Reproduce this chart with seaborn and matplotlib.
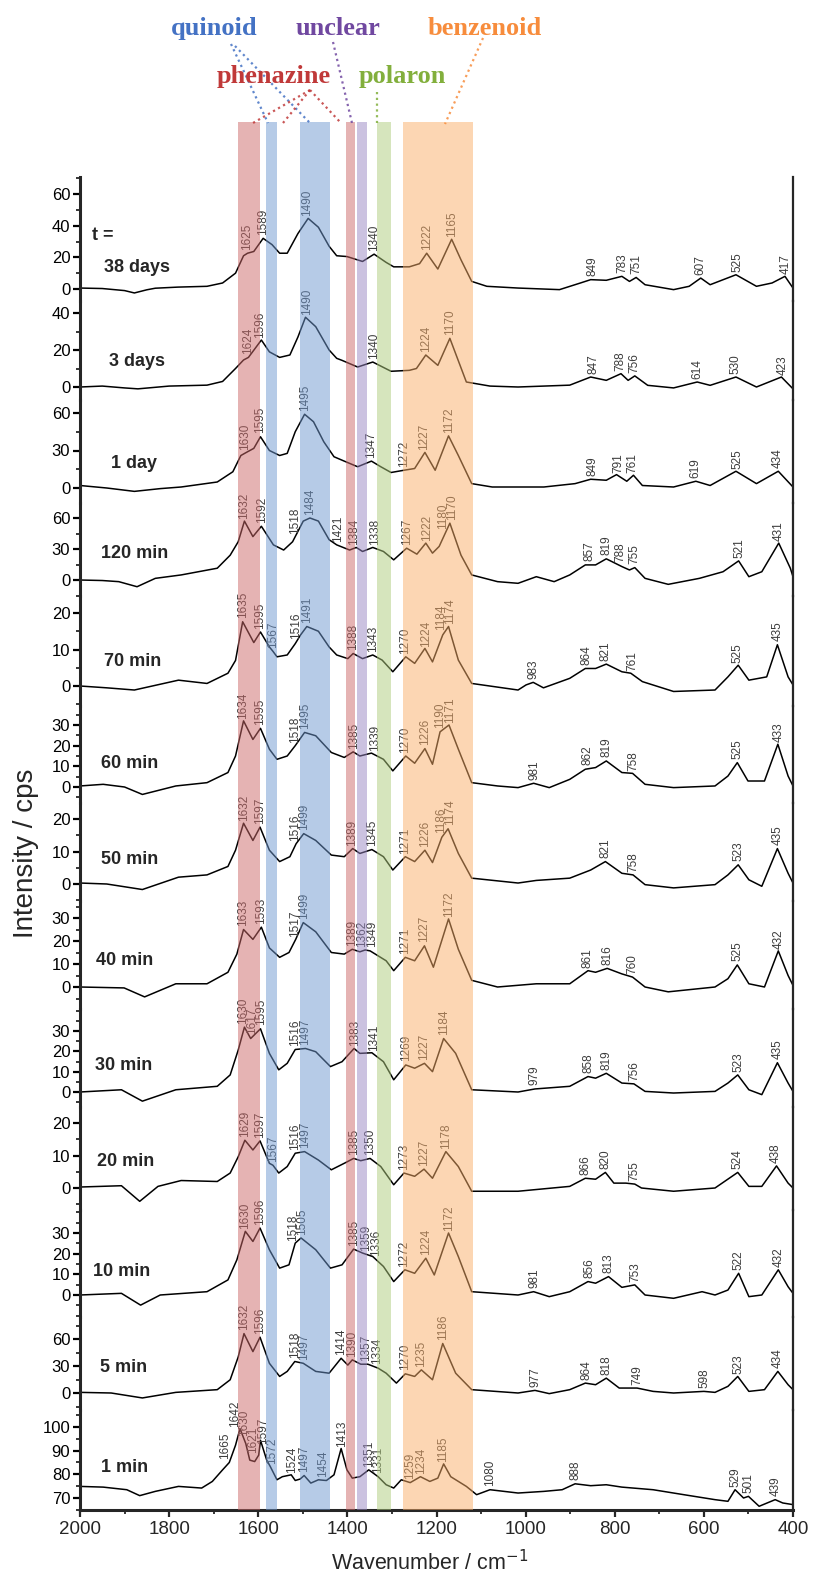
import numpy as np
import pandas as pd
import matplotlib
matplotlib.use("Agg")
import matplotlib.pyplot as plt
from matplotlib.ticker import AutoMinorLocator, MultipleLocator
import seaborn as sns

# ---------------- data ----------------
panel_names = ["38 days", "3 days", "1 day", "120 min", "70 min", "60 min", "50 min",
               "40 min", "30 min", "20 min", "10 min", "5 min", "1 min"]

# (wavenumber, intensity) pairs per spectrum
spec_38d = [(2000, 0.6), (1950, 0.3), (1900, -1), (1878, -2.5), (1850, -0.5), (1831, 0.5), (1780, 1.2),
            (1715, 1.7), (1680, 3.8), (1651, 10), (1633, 21), (1624, 22.6), (1610, 23.7), (1589, 32),
            (1569, 28), (1552, 22.6), (1535, 22.6), (1511, 35), (1488, 44.6), (1465, 39), (1441, 27),
            (1424, 21), (1401, 20.5), (1366, 17.4), (1340, 22), (1313, 16.8), (1296, 14), (1261, 14),
            (1238, 16), (1222, 22.6), (1197, 12.6), (1166, 31.4), (1145, 18.4), (1121, 4.8), (1087, 1.7),
            (1017, 0.6), (924, -0.4), (877, 3.8), (854, 5.9), (819, 5.5), (784, 8), (767, 4.8), (752, 7.3),
            (732, 2.7), (668, -0.4), (633, 1.7), (607, 6.9), (586, 2.7), (528, 9), (482, 1.7), (447, 3.8),
            (418, 8), (400, 0.6)]
spec_3d = [(2000, 0), (1950, 0.5), (1900, -0.5), (1870, -1), (1800, 0.5), (1715, 1), (1680, 3), (1651, 10),
           (1633, 14.6), (1622, 16), (1593, 25.4), (1575, 19), (1552, 16), (1529, 17.3), (1511, 27),
           (1494, 37.7), (1471, 32.6), (1441, 20), (1424, 15.5), (1412, 14.4), (1377, 10.8), (1343, 13.5),
           (1302, 8.5), (1261, 9), (1245, 10), (1224, 17.3), (1197, 11.7), (1170, 26.3), (1133, 2.7),
           (1080, 0.5), (1017, 0), (901, 1), (854, 5.4), (819, 3.6), (786, 7.2), (770, 3.6), (755, 6),
           (726, 0.9), (668, -0.5), (615, 2.7), (586, 0.9), (528, 5.4), (482, 0), (426, 5.4), (400, -1)]
spec_1d = [(2000, 2), (1940, 0), (1878, -2.7), (1820, -0.5), (1773, 0.8), (1692, 4.8), (1657, 13), (1639, 26),
           (1624, 29), (1610, 31.7), (1595, 41), (1575, 30), (1552, 26), (1535, 27.7), (1517, 45), (1496, 59),
           (1476, 53), (1453, 37), (1430, 25), (1407, 21.5), (1377, 17), (1346, 21.5), (1325, 17),
           (1302, 12.4), (1273, 14.2), (1249, 15.6), (1226, 28.5), (1203, 14.2), (1173, 41.7), (1151, 26),
           (1121, 3.5), (1075, 0.8), (959, 0.8), (889, 3.5), (854, 7), (819, 6.2), (796, 10.7), (773, 5.4),
           (758, 10.2), (738, 2), (668, 0.8), (618, 5.4), (586, 2), (528, 13.4), (482, 3.5), (433, 13.4),
           (400, 0.8)]
spec_120m = [(2000, 0), (1950, -0.5), (1913, -1.6), (1872, -6.5), (1831, 1.6), (1773, 4.9), (1692, 11.4),
             (1663, 24), (1645, 37), (1631, 57), (1612, 42), (1593, 52), (1566, 34), (1543, 29), (1523, 37),
             (1499, 57), (1484, 60), (1465, 57), (1441, 39), (1424, 34), (1395, 29), (1380, 31.5),
             (1366, 27.6), (1343, 31.5), (1319, 27.6), (1296, 19.5), (1267, 30.8), (1244, 25), (1224, 35.7),
             (1209, 26), (1194, 32.5), (1170, 55), (1145, 24), (1121, 4.9), (1063, -1.6), (1017, -3.2),
             (976, 3.2), (936, -1.6), (901, 4.9), (866, 14.6), (843, 14.6), (819, 20.5), (784, 13),
             (767, 9.7), (755, 12), (732, 1.6), (680, -4.2), (610, 1.6), (557, 8), (522, 18.5), (499, 3.2),
             (470, 8), (432, 35.7), (406, 11.4), (400, 3.2)]
spec_70m = [(2000, 0), (1940, -0.5), (1878, -1.1), (1779, 1.6), (1715, 0.7), (1668, 3.5), (1651, 7),
            (1635, 17.6), (1610, 11.9), (1595, 14.8), (1575, 10.7), (1567, 9.5), (1558, 8), (1535, 8.5),
            (1517, 11.6), (1505, 14), (1491, 16.3), (1465, 15), (1441, 10.7), (1424, 8.5), (1399, 7.5),
            (1387, 8.9), (1366, 7.5), (1343, 8.5), (1322, 7.1), (1298, 3.9), (1269, 8), (1249, 6.2),
            (1226, 10.3), (1209, 6.6), (1186, 14), (1173, 16.3), (1151, 7.1), (1121, 0.7), (1017, -1.1),
            (999, 0.3), (983, 1), (960, -0.5), (901, 2.1), (866, 4.8), (843, 4.8), (819, 6), (784, 3.9),
            (764, 3.5), (738, 1.2), (668, -1.5), (575, -1.1), (546, 2.5), (523, 5.7), (499, 1.6),
            (459, 2.5), (435, 11.3), (411, 2.5), (400, 0.3)]
spec_60m = [(2000, 0.5), (1948, 1.3), (1900, 0), (1860, -3.6), (1785, 0.5), (1715, 2.1), (1668, 7),
            (1651, 15), (1633, 32), (1612, 23), (1595, 28.4), (1575, 18.3), (1558, 13.4), (1535, 15),
            (1517, 20), (1496, 26.4), (1471, 24.8), (1436, 16.7), (1407, 14.3), (1387, 17), (1372, 15),
            (1346, 16.4), (1319, 13.4), (1298, 7.8), (1269, 15), (1249, 11.5), (1226, 18.6), (1209, 11),
            (1192, 26.7), (1172, 30), (1151, 18.3), (1121, 2.1), (1063, 0.5), (1017, -0.3), (982, 1.8),
            (947, -0.3), (901, 3.7), (866, 8.6), (843, 9.4), (819, 12.6), (784, 7), (760, 6.6), (732, 1.3),
            (668, -0.3), (575, 0.5), (546, 5.3), (525, 11.8), (501, 2.9), (464, 2.9), (434, 20.7),
            (411, 5.3), (400, 0.5)]
spec_50m = [(2000, 0.3), (1940, 0), (1860, -1.7), (1779, 2.1), (1715, 2.8), (1668, 5.4), (1651, 10.4),
            (1633, 18.7), (1612, 13.4), (1596, 17.5), (1575, 10.4), (1552, 6.9), (1529, 8.4), (1515, 12.4),
            (1498, 15.5), (1471, 13.4), (1436, 8.9), (1407, 8.4), (1388, 10.9), (1372, 9.4), (1345, 10.6),
            (1319, 8.4), (1298, 4.3), (1270, 8.4), (1249, 6.9), (1226, 10.4), (1209, 6.6), (1188, 14.4),
            (1174, 17), (1151, 9.4), (1121, 1.8), (1017, 0.3), (976, 1.1), (901, 1.8), (854, 4.3),
            (821, 6.9), (784, 3.3), (759, 2.8), (732, -0.2), (668, -1.2), (575, -0.2), (546, 2.8),
            (523, 5.9), (499, 1.3), (470, -0.7), (435, 10.9), (411, 3.3), (400, 0.3)]
spec_40m = [(2000, 0), (1901, -0.4), (1855, -4.3), (1785, 1.4), (1715, 1.4), (1668, 6.4), (1648, 14.3),
            (1633, 25), (1612, 20.7), (1593, 26), (1575, 17), (1552, 12.9), (1531, 15), (1516, 20.7),
            (1499, 28), (1471, 24), (1436, 15), (1407, 14.3), (1389, 16.4), (1372, 15.3), (1360, 16.1),
            (1349, 15.7), (1313, 11.4), (1296, 7.1), (1270, 12.9), (1249, 11.4), (1227, 17.9), (1207, 8.6),
            (1173, 29.6), (1151, 16.4), (1121, 2.9), (1063, 0), (976, 1.4), (901, 1.4), (860, 7.1),
            (843, 6.4), (817, 8.1), (784, 5.7), (760, 4.3), (732, 0), (680, -2.1), (575, 0), (546, 3.6),
            (525, 9.6), (499, 1.4), (464, 0), (433, 15.7), (411, 5), (400, 0.7)]
spec_30m = [(2000, 0), (1907, 1.1), (1860, -4.5), (1785, 1.1), (1692, 2.8), (1663, 8.4), (1645, 20.6),
            (1631, 31.9), (1617, 26.3), (1595, 31.1), (1575, 19), (1554, 10.9), (1535, 14.1), (1517, 20.9),
            (1494, 21.4), (1471, 19.8), (1438, 12.5), (1412, 14.9), (1385, 21.4), (1372, 19), (1345, 19.3),
            (1319, 14.9), (1296, 6), (1269, 13.3), (1249, 11.7), (1227, 14.1), (1209, 10), (1184, 26.3),
            (1157, 19), (1121, 1.1), (1017, 0), (979, 1.5), (901, 2.8), (860, 7.6), (843, 6.8), (819, 9.2),
            (784, 4.4), (757, 4), (732, 0.3), (668, -0.5), (575, 0.3), (546, 4.4), (524, 8.4), (499, 1.1),
            (470, -1.3), (435, 14.4), (411, 4.4), (400, 0.3)]
spec_20m = [(2000, 0.3), (1907, 0.7), (1866, -4.1), (1825, 0.5), (1773, 2.3), (1692, 2), (1663, 4.6),
            (1645, 9.6), (1630, 14.7), (1612, 11.7), (1596, 14.5), (1575, 7.6), (1567, 7), (1554, 4.6),
            (1535, 6.6), (1517, 10.7), (1496, 11.2), (1465, 8.6), (1436, 5.6), (1407, 7.6), (1386, 9.1),
            (1370, 8.4), (1349, 9.1), (1325, 6.6), (1296, 1), (1273, 4.6), (1249, 3.6), (1228, 5.8),
            (1209, 3), (1179, 11.2), (1151, 6.6), (1121, -1), (1017, -1), (901, 0.5), (866, 3), (843, 2.7),
            (821, 4.8), (802, 1.5), (775, 1.5), (755, 1.2), (740, 0), (668, -1), (575, 0), (524, 4.8),
            (499, 0.5), (470, 0.5), (437, 6.8), (411, 1.5), (400, 0)]
spec_10m = [(2000, 0), (1907, 0.8), (1864, -4.9), (1820, 0), (1715, 1.6), (1668, 7.3), (1648, 17),
            (1629, 30.8), (1612, 25.9), (1596, 32.4), (1575, 21.9), (1552, 13), (1531, 14.6), (1517, 25.1),
            (1504, 27.6), (1471, 21.9), (1438, 13), (1412, 14.6), (1386, 22.2), (1366, 20.3), (1343, 18.6),
            (1319, 13.8), (1296, 6.5), (1271, 12.2), (1249, 10.5), (1224, 17.8), (1205, 9.7), (1173, 30),
            (1151, 18.6), (1121, 1.6), (1017, 0), (982, 1.6), (947, -0.8), (901, 1.6), (860, 6.5),
            (843, 5.7), (814, 8.9), (784, 3.7), (755, 4.9), (732, 0), (668, -1.6), (604, 1.6), (575, 0),
            (546, 2.4), (522, 10.5), (499, -0.8), (470, 0), (433, 12.2), (411, 4), (400, 0.8)]
spec_5m = [(2000, 0.7), (1930, 0), (1860, -5.5), (1785, 0.7), (1692, 3.7), (1663, 14.7), (1645, 40),
           (1632, 66), (1612, 46), (1596, 62), (1575, 33), (1552, 18.4), (1535, 24), (1518, 35), (1499, 33),
           (1471, 24), (1441, 22), (1414, 38.6), (1399, 31), (1389, 36.8), (1370, 32), (1354, 32),
           (1331, 27.6), (1313, 22), (1290, 11), (1270, 21.3), (1249, 18.4), (1234, 25.7), (1209, 14.7),
           (1186, 55), (1157, 22), (1121, 3.7), (1017, 0), (979, 2.9), (947, -0.7), (901, 3.7), (866, 11),
           (843, 9.2), (819, 16.5), (790, 5.5), (750, 5.5), (714, 1.8), (668, 0), (600, 1.8), (575, 0.7),
           (546, 7.4), (524, 18.4), (499, 1.8), (464, 3.7), (434, 24), (411, 9.2), (400, 3.7)]
spec_1m = [(2000, 74.9), (1948, 74.6), (1895, 73.5), (1866, 71), (1831, 72.8), (1779, 74.9), (1727, 74.2),
           (1703, 77), (1680, 81.9), (1665, 85), (1651, 92.3), (1641, 99.3), (1628, 93), (1619, 86),
           (1608, 85.4), (1599, 88.1), (1595, 94.4), (1581, 86), (1573, 83.3), (1558, 77.7), (1546, 79),
           (1526, 79.8), (1517, 77.4), (1506, 78), (1497, 79.5), (1482, 76.3), (1465, 77.7), (1454, 77.5),
           (1447, 77.4), (1430, 79.8), (1414, 90.9), (1401, 81.9), (1389, 78.4), (1372, 79), (1352, 81.9),
           (1331, 79), (1313, 75.6), (1296, 74.2), (1279, 77.7), (1259, 76.5), (1236, 79), (1215, 77),
           (1197, 78.4), (1184, 84.4), (1168, 79), (1133, 74.9), (1110, 71.4), (1080, 73.5), (1017, 72.1),
           (959, 72.8), (918, 73.5), (889, 76), (854, 75.2), (819, 75.6), (784, 74.6), (714, 73.5),
           (645, 71.4), (575, 69.3), (546, 68.6), (530, 73.5), (511, 70), (500, 70.7), (476, 66.5),
           (440, 69.3), (423, 67.9), (400, 67.2)]

# labelled peak positions per spectrum
peaks_38d = [1625, 1589, 1490, 1340, 1222, 1165, 849, 783, 751, 607, 525, 417]
peaks_3d = [1624, 1596, 1490, 1340, 1224, 1170, 847, 788, 756, 614, 530, 423]
peaks_1d = [1630, 1595, 1495, 1347, 1272, 1227, 1172, 849, 791, 761, 619, 525, 434]
peaks_120m = [1632, 1592, 1518, 1484, 1421, 1384, 1338, 1267, 1222, 1180, 1170, 857, 819, 788, 755, 521, 431]
peaks_70m = [1635, 1595, 1567, 1516, 1491, 1388, 1343, 1270, 1224, 1184, 1174, 983, 864, 821, 761, 525, 435]
peaks_60m = [1634, 1595, 1518, 1495, 1385, 1339, 1270, 1226, 1190, 1171, 981, 862, 819, 758, 525, 433]
peaks_50m = [1632, 1597, 1516, 1499, 1389, 1345, 1271, 1226, 1186, 1174, 821, 758, 523, 435]
peaks_40m = [1633, 1593, 1517, 1499, 1389, 1362, 1349, 1271, 1227, 1172, 861, 816, 760, 525, 432]
peaks_30m = [1630, 1617, 1595, 1516, 1497, 1383, 1341, 1269, 1227, 1184, 979, 858, 819, 756, 523, 435]
peaks_20m = [1629, 1597, 1567, 1516, 1497, 1385, 1350, 1273, 1227, 1178, 866, 820, 755, 524, 438]
peaks_10m = [1630, 1596, 1518, 1505, 1385, 1359, 1336, 1272, 1224, 1172, 981, 856, 813, 753, 522, 432]
peaks_5m = [1632, 1596, 1518, 1497, 1414, 1390, 1357, 1334, 1270, 1235, 1186, 977, 864, 818, 749, 598, 523, 434]
peaks_1m = [1665, 1642, 1630, 1621, 1597, 1572, 1524, 1497, 1454, 1413, 1351, 1331, 1259, 1234, 1185, 1080,
            888, 529, 501, 439]

yticks_per_panel = [[0, 20, 40, 60], [0, 20, 40], [0, 30, 60], [0, 30, 60], [0, 10, 20], [0, 10, 20, 30],
                    [0, 10, 20], [0, 10, 20, 30], [0, 10, 20, 30], [0, 10, 20], [0, 10, 20, 30],
                    [0, 30, 60], [70, 80, 90, 100]]
xticks = [2000, 1800, 1600, 1400, 1200, 1000, 800, 600, 400]

# assignment bands (wavenumber ranges)
band_names = ["phenazine", "quinoid", "unclear", "polaron", "benzenoid"]
band_ranges = {
    "phenazine": [(1646, 1595), (1403, 1383)],
    "quinoid": [(1582, 1559), (1507, 1440)],
    "unclear": [(1378, 1355)],
    "polaron": [(1334, 1303)],
    "benzenoid": [(1276, 1117)],
}

spectra = [spec_38d, spec_3d, spec_1d, spec_120m, spec_70m, spec_60m, spec_50m,
           spec_40m, spec_30m, spec_20m, spec_10m, spec_5m, spec_1m]
peaks = [peaks_38d, peaks_3d, peaks_1d, peaks_120m, peaks_70m, peaks_60m, peaks_50m,
         peaks_40m, peaks_30m, peaks_20m, peaks_10m, peaks_5m, peaks_1m]

# ---------------- styling / layout ----------------
band_fill = {"phenazine": "#cd6969", "quinoid": "#6f99d1", "unclear": "#9987c3",
             "polaron": "#afcd7d", "benzenoid": "#fbaf69"}
band_text = {"phenazine": "#c03939", "quinoid": "#4472c4", "unclear": "#7048a0",
             "polaron": "#82af3c", "benzenoid": "#f78c3c"}

W, H = 813, 1576
X0, X1 = 80, 793
edges = [177, 301, 400, 503, 596, 706, 803, 901, 1009, 1107, 1210, 1317, 1410, 1510]
# (value, pixel row) of the top and bottom tick of each panel
anchors = [((60, 194), (0, 289)), ((40, 313), (0, 387)), ((60, 413), (0, 488)), ((60, 518), (0, 580)),
           ((20, 613), (0, 686)), ((30, 725), (0, 787)), ((20, 819), (0, 884)), ((30, 918), (0, 987)),
           ((30, 1031), (0, 1092)), ((20, 1123), (0, 1188)), ((30, 1233), (0, 1295)),
           ((60, 1339), (0, 1393)), ((100, 1427), (70, 1498))]
name_px = [(104, 267), (109, 362), (111, 463), (101, 553), (104, 661), (101, 763), (101, 859),
           (96, 960), (95, 1065), (97, 1162), (93, 1271), (100, 1367), (101, 1468)]

sns.set_theme(style="ticks")
plt.rcParams["font.family"] = ["Liberation Sans", "DejaVu Sans"]
plt.rcParams["axes.linewidth"] = 2.0


def fx(px):
    return px / W


def fy(py):
    return 1 - py / H


def spread(vals, gap=21.0):
    """Push overlapping label positions apart (descending wavenumbers)."""
    pos = [float(v) for v in vals]
    for _ in range(300):
        moved = False
        for j in range(len(pos) - 1):
            d = pos[j] - pos[j + 1]
            if d < gap - 1e-6:
                push = (gap - d) / 2
                pos[j] += push
                pos[j + 1] -= push
                moved = True
        if not moved:
            break
    return pos


fig = plt.figure(figsize=(W / 100, H / 100), dpi=100)

n = len(spectra)
for i in range(n):
    top, bot = edges[i], edges[i + 1]
    ax = fig.add_axes([fx(X0), fy(bot), fx(X1) - fx(X0), (bot - top) / H])
    (vh, ph), (vl, pl) = anchors[i]
    s = (pl - ph) / (vh - vl)
    ax.set_ylim(vl - (bot - pl) / s, vh + (ph - top) / s)
    ax.set_xlim(2000, 400)
    ax.patch.set_alpha(0)

    df = pd.DataFrame(spectra[i], columns=["wn", "I"])
    sns.lineplot(data=df, x="wn", y="I", ax=ax, color="black", lw=1.1,
                 sort=False, estimator=None)
    ax.set_xlabel("")
    ax.set_ylabel("")
    for ln in ax.lines:
        ln.set_clip_on(False)

    ax.set_yticks(yticks_per_panel[i])
    ax.yaxis.set_minor_locator(AutoMinorLocator(2))
    ax.tick_params(axis="y", which="major", direction="out", length=5, width=1.6,
                   labelsize=12, pad=2, colors="black")
    ax.tick_params(axis="y", which="minor", direction="out", length=3, width=1.3)
    ax.spines["top"].set_visible(False)
    ax.spines["left"].set_linewidth(2.2)
    ax.spines["right"].set_linewidth(1.6)
    if i < n - 1:
        ax.spines["bottom"].set_visible(False)
        ax.tick_params(axis="x", which="both", bottom=False, labelbottom=False)
    else:
        ax.spines["bottom"].set_linewidth(2.2)
        ax.set_xticks(xticks)
        ax.xaxis.set_minor_locator(MultipleLocator(100))
        ax.tick_params(axis="x", which="major", direction="out", length=5, width=1.6,
                       labelsize=13.5, pad=3)
        ax.tick_params(axis="x", which="minor", direction="out", length=3, width=1.3)

    # peak labels
    wn = df["wn"].to_numpy()[::-1]
    val = df["I"].to_numpy()[::-1]
    pk = sorted(peaks[i], reverse=True)
    pos = spread(pk)
    for p, x in zip(pk, pos):
        y = max(np.interp(p, wn, val), np.interp(x, wn, val))
        ax.annotate(str(p), xy=(x, y), xytext=(0, 2.5), textcoords="offset points",
                    rotation=90, ha="center", va="bottom", fontsize=8.5,
                    color="#3c3c3c", annotation_clip=False)

    nx, ny = name_px[i]
    fig.text(fx(nx), fy(ny), panel_names[i], ha="left", va="center",
             fontsize=13, fontweight="bold")

fig.text(fx(92), fy(235), "t =", ha="left", va="center", fontsize=13, fontweight="bold")
fig.text(fx(26), fy(853), "Intensity / cps", rotation=90, ha="center", va="center", fontsize=20)
fig.text(fx(430), fy(1563), "Wavenumber / cm$^{-1}$", ha="center", va="center", fontsize=15.5)

# translucent assignment bands laid over all panels
axb = fig.add_axes([fx(X0), fy(1510), fx(X1) - fx(X0), (1510 - 122) / H], zorder=5)
axb.set_xlim(2000, 400)
axb.set_ylim(0, 1)
axb.axis("off")
for name in band_names:
    for hi, lo in band_ranges[name]:
        axb.axvspan(hi, lo, color=band_fill[name], alpha=0.5, lw=0)

# header with assignment names and dotted pointers
axh = fig.add_axes([0, fy(177), 1, 177 / H], zorder=6)
axh.set_xlim(0, W)
axh.set_ylim(177, 0)
axh.axis("off")
header = [("quinoid", 214, 35), ("unclear", 338, 35), ("benzenoid", 485, 35),
          ("phenazine", 274, 83), ("polaron", 402, 83)]
for name, hx, hy in header:
    axh.text(hx, hy, name, color=band_text[name], fontsize=19, fontweight="bold",
             family=["Liberation Serif", "DejaVu Serif"], ha="center", va="baseline")
pointers = [("quinoid", (231, 44), (268, 123)), ("quinoid", (235, 46), (310, 123)),
            ("unclear", (333, 42), (352, 123)),
            ("phenazine", (310, 90), (253, 123)), ("phenazine", (310, 90), (283, 123)),
            ("phenazine", (310, 90), (341, 123)),
            ("polaron", (377, 92), (377, 123)), ("benzenoid", (483, 38), (445, 124))]
for name, (xa, ya), (xb, yb) in pointers:
    axh.plot([xa, xb], [ya, yb], color=band_text[name], lw=1.6, ls=(0, (1, 1.6)), alpha=0.85)

fig.savefig("out.png", dpi=100)
